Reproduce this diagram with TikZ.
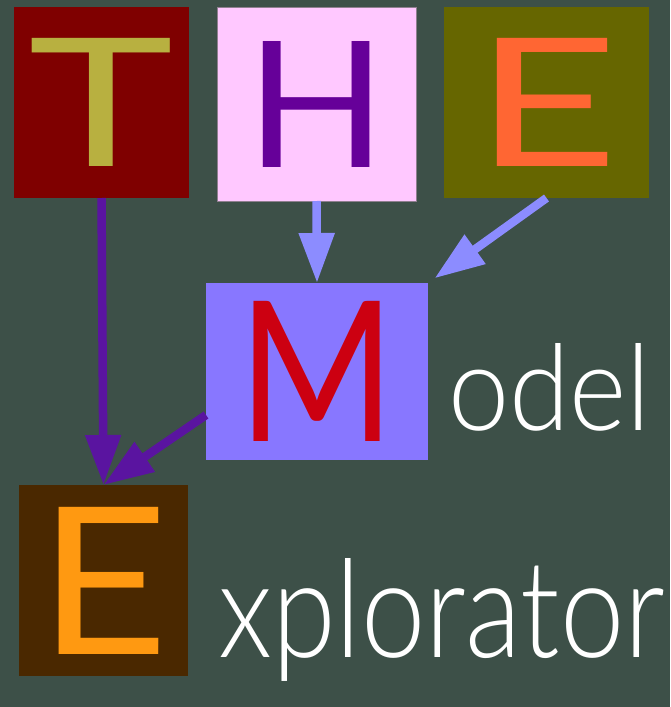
\documentclass[tikz,border=0pt]{standalone}
\usepackage{fontspec}
\usepackage{graphicx}
\setmainfont{Lato}
\newfontfamily\thinfont{Lato Light}
\usetikzlibrary{arrows.meta}
\definecolor{bg}{HTML}{3D5048}
\definecolor{tbox}{HTML}{7F0000}
\definecolor{tletter}{HTML}{B8B040}
\definecolor{hbox}{HTML}{FFC8FF}
\definecolor{hborder}{HTML}{8F7F8F}
\definecolor{hletter}{HTML}{660099}
\definecolor{ebox}{HTML}{666600}
\definecolor{eletter}{HTML}{FF6633}
\definecolor{mbox}{HTML}{8877FF}
\definecolor{mletter}{HTML}{CC0011}
\definecolor{xbox}{HTML}{4A2800}
\definecolor{xletter}{HTML}{FF9911}
\definecolor{darkarrow}{HTML}{5A14A0}
\definecolor{lightarrow}{HTML}{8C8CFF}
\begin{document}
\begin{tikzpicture}[x=1pt,y=-1pt,
  letterbox/.style={inner sep=0pt, outer sep=0pt, anchor=center},
  word/.style={inner sep=0pt, outer sep=0pt, anchor=base west, text=white, font=\thinfont},
  conn/.style={line width=8.5pt, -{Triangle[length=50pt,width=34pt]}},
  darkconn/.style={conn, draw=darkarrow},
  lightconn/.style={conn, draw=lightarrow}]
\fill[bg] (0,0) rectangle (670,707);
\useasboundingbox (0,0) rectangle (670,707);
\node[letterbox, fill=tbox, minimum width=175pt, minimum height=191pt, text=tletter] (T) at (101.5,102.5) {\resizebox{145pt}{128pt}{T}};
\node[letterbox, fill=hbox, draw=hborder, line width=1pt, minimum width=199pt, minimum height=194pt, text=hletter] (H) at (316.5,104) {\resizebox{140pt}{126pt}{H}};
\node[letterbox, fill=ebox, minimum width=205pt, minimum height=191pt, text=eletter] (E) at (546.5,102.5) {\resizebox{144pt}{128pt}{E}};
\node[letterbox, fill=mbox, minimum width=222pt, minimum height=177pt, text=mletter] (M) at (317,371.5) {\resizebox{157pt}{140pt}{M}};
\node[letterbox, fill=xbox, minimum width=169pt, minimum height=191pt, text=xletter] (X) at (103.5,580.5) {\resizebox{130pt}{147pt}{E}};
\node[word] (odel) at (448,430) {\resizebox{203pt}{87pt}{odel}};
\node[word] (xplorator) at (218,657) {\resizebox{447pt}{99pt}{xplorator}};
\draw[darkconn] (T.south) -- (X.north);
\draw[lightconn] (H.south) -- (M.north);
\draw[lightconn, shorten >=8pt] (E.south) -- (M.north east);
\draw[darkconn] ([yshift=45pt]M.south west) -- (X.north);
\end{tikzpicture}
\end{document}
